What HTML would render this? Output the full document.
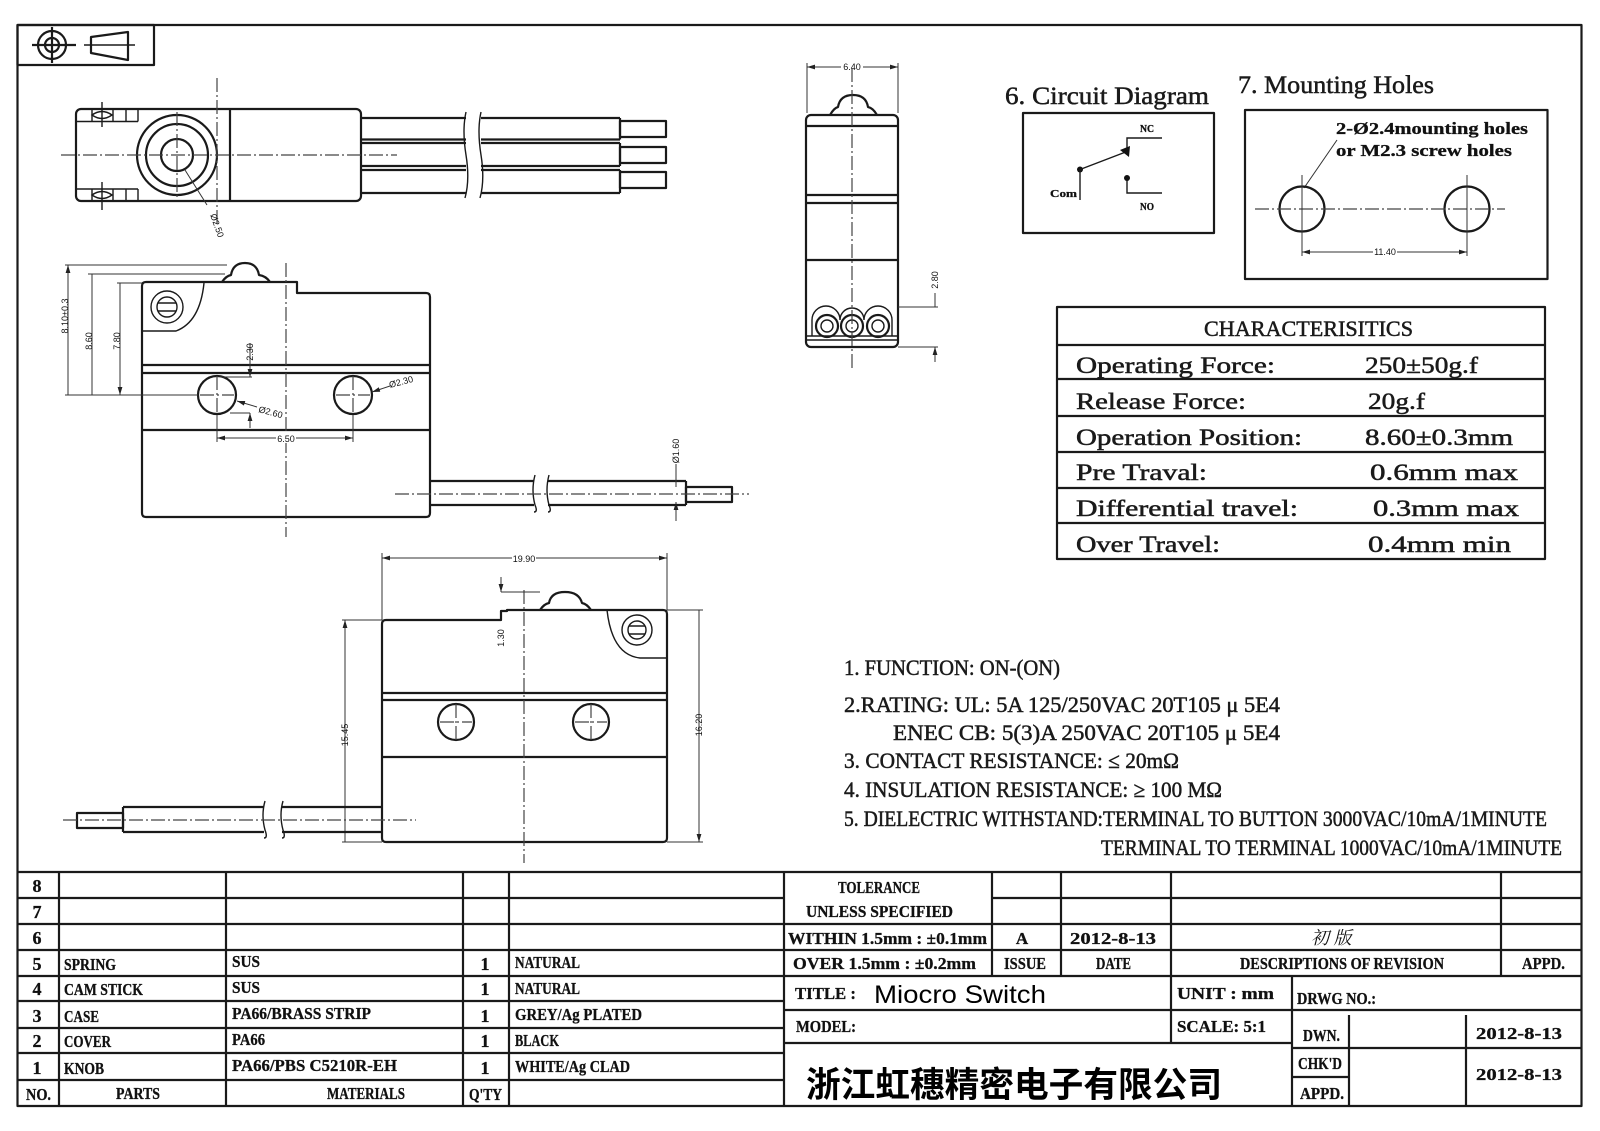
<!DOCTYPE html>
<html><head><meta charset="utf-8"><style>
html,body{margin:0;padding:0;background:#fff;}
svg{display:block}
.s{fill:none;stroke:#1a1a1a;stroke-width:2.2;stroke-linejoin:round}
.m{fill:none;stroke:#1a1a1a;stroke-width:1.4}
.d{fill:none;stroke:#333;stroke-width:1}
.c{fill:none;stroke:#444;stroke-width:1.2;stroke-dasharray:14 3 2 3}
.t{font-family:"Liberation Serif",serif;fill:#1a1a1a;stroke:#1a1a1a;stroke-width:0.5}
.b{font-family:"Liberation Serif",serif;font-weight:bold;fill:#111;stroke:#111;stroke-width:0.3}
.n{font-family:"Liberation Sans",sans-serif;fill:#111;font-size:9px}
</style></head><body>
<svg width="1600" height="1131" viewBox="0 0 1600 1131" xmlns="http://www.w3.org/2000/svg">
<defs>
<marker id="a" viewBox="0 0 10 6" refX="10" refY="3" markerWidth="8" markerHeight="4.8" orient="auto-start-reverse" markerUnits="userSpaceOnUse"><path d="M0,0L10,3L0,6Z" fill="#222"/></marker>
</defs>
<rect width="1600" height="1131" fill="#fff"/>

<!-- Frame -->
<rect x="17.5" y="25" width="1564" height="1081" class="s" stroke-width="3"/>
<rect x="17.5" y="25" width="136.5" height="40" class="s"/>
<circle cx="52" cy="45" r="14" class="s"/>
<circle cx="52" cy="45" r="7" class="s"/>
<path d="M32,45H76M52,27V63" class="s" stroke-width="1.6"/>
<path d="M91,37L128,32V60L91,53Z" class="s"/>
<path d="M84,45H135" class="m"/>

<!-- Top view -->
<rect x="76" y="109" width="285" height="92" rx="5" class="s"/>
<path d="M230,109V201" class="s"/>
<path d="M76,121.5H138M76,189H138M138,109V121.5M138,189V201M113,109V121.5M126,109V121.5M113,189V201M126,189V201M92,109V121.5M92,189V201" class="m"/>
<path d="M92,115Q102,108 112,115Q102,122 92,115ZM92,195Q102,188 112,195Q102,202 92,195Z" class="m"/>
<path d="M102,102V127M102,182V210" class="m"/>
<circle cx="177" cy="155" r="40" class="s"/>
<circle cx="177" cy="155" r="31" class="s"/>
<circle cx="177" cy="155" r="16" class="s"/>
<path d="M177,112V198" class="c"/>
<path d="M61,155H397" class="c"/>
<path d="M217,78V227" class="c"/>
<path d="M185,170L207,205" class="d"/>
<text class="n" x="210" y="215" transform="rotate(70 210 215)">Ø2.50</text>
<path d="M361,118H466M481,118H620M361,139.5H466M481,139.5H620M361,143H466M481,143H620M361,166H466M481,166H620M361,170H466M481,170H620M361,193H466M481,193H620M620,118V139.5M620,143V166M620,170V193" class="s" stroke-width="2"/>
<path d="M466,112Q462,130 466,155Q470,180 465,198M481,112Q477,130 481,155Q485,180 480,198" class="m"/>
<rect x="620" y="121" width="46" height="16" class="s" stroke-width="2"/>
<rect x="620" y="147" width="46" height="16" class="s" stroke-width="2"/>
<rect x="620" y="172" width="46" height="16" class="s" stroke-width="2"/>

<!-- Side view 1 -->
<path d="M142,286Q142,282 146,282L297,282L297,293L426,293Q430,293 430,297L430,513Q430,517 426,517L146,517Q142,517 142,513Z" class="s"/>
<path d="M222,282Q226,276 231,275Q233,263 245,263Q257,263 259,275Q266,276 270,282" class="s"/>
<circle cx="167" cy="307" r="16" class="m"/>
<circle cx="167" cy="307" r="10" class="m"/>
<path d="M158,303H176M158,311H176" class="m"/>
<path d="M142,331L176,331Q200,322 204,283" class="m"/>
<path d="M142,365H430M142,373H430M142,430H430" class="s"/>
<circle cx="217" cy="395" r="19" class="s"/>
<circle cx="353" cy="395" r="19" class="s"/>
<path d="M200,395H234M217,376V414M336,395H370M353,376V414" class="c" stroke-width="0.9"/>
<path d="M286,263V537" class="c"/>
<path d="M68,265V395M92,274V395M120,283V395" class="d" marker-start="url(#a)" marker-end="url(#a)"/>
<path d="M65,265H227M88,274H225M117,283H142M65,395H198" class="d"/>
<text class="n" x="68" y="316" text-anchor="middle" transform="rotate(-90 68 316)">8.10±0.3</text>
<text class="n" x="92" y="341" text-anchor="middle" transform="rotate(-90 92 341)">8.60</text>
<text class="n" x="120" y="341" text-anchor="middle" transform="rotate(-90 120 341)">7.80</text>
<path d="M250,343V377" class="d" marker-end="url(#a)"/>
<path d="M220,377H252M230,413H250" class="d"/>
<path d="M250,428V413" class="d" marker-end="url(#a)"/>
<text class="n" x="253" y="352" text-anchor="middle" transform="rotate(-90 253 352)">2.30</text>
<path d="M237,401L257,407" class="d" marker-start="url(#a)"/>
<text class="n" x="258" y="412" transform="rotate(15 258 412)">Ø2.60</text>
<path d="M372,392L390,386" class="d" marker-start="url(#a)"/>
<text class="n" x="390" y="388" transform="rotate(-15 390 388)">Ø2.30</text>
<path d="M217,438H353" class="d" marker-start="url(#a)" marker-end="url(#a)"/>
<path d="M217,415V442M353,415V442" class="d"/>
<rect x="276" y="433" width="20" height="10" fill="#fff"/>
<text class="n" x="286" y="442" text-anchor="middle">6.50</text>
<path d="M430,481H534M548,481H686M430,505H534M548,505H686M686,481V505" class="s" stroke-width="2"/>
<path d="M535,475Q531,490 535,505Q538,512 534,512M549,475Q545,490 549,505Q552,512 548,512" class="m"/>
<rect x="686" y="487" width="46" height="15" class="s" stroke-width="2"/>
<path d="M395,494H749" class="c"/>
<path d="M676,464V487M676,521V502" class="d" marker-end="url(#a)"/>
<text class="n" x="679" y="451" text-anchor="middle" transform="rotate(-90 679 451)">Ø1.60</text>

<!-- Side view 2 -->
<path d="M386,620L501,620L501,611L507,611L507,610L663,610Q667,610 667,614L667,838Q667,842 663,842L386,842Q382,842 382,838L382,624Q382,620 386,620Z" class="s"/>
<path d="M540,610Q544,604 549,603Q551,592 565,592Q579,592 582,603Q587,604 591,610" class="s"/>
<circle cx="637" cy="630" r="15" class="m"/>
<circle cx="637" cy="630" r="9" class="m"/>
<path d="M629,626H645M629,634H645" class="m"/>
<path d="M607,610Q612,655 640,658L667,658" class="m"/>
<path d="M382,693H667M382,700H667M382,757H667" class="s"/>
<circle cx="456" cy="722" r="18" class="s"/>
<circle cx="591" cy="722" r="18" class="s"/>
<path d="M440,722H472M456,704V742M575,722H607M591,704V742" class="c" stroke-width="0.9"/>
<path d="M524,590V863" class="c"/>
<path d="M382,558H667" class="d" marker-start="url(#a)" marker-end="url(#a)"/>
<path d="M382,553V620M667,553V610" class="d"/>
<rect x="512" y="553" width="24" height="10" fill="#fff"/>
<text class="n" x="524" y="562" text-anchor="middle">19.90</text>
<path d="M501,577V592" class="d" marker-end="url(#a)"/>
<path d="M501,592H540" class="d"/>
<text class="n" x="504" y="638" text-anchor="middle" transform="rotate(-90 504 638)">1.30</text>
<path d="M345,620V842M699,610V842" class="d" marker-start="url(#a)" marker-end="url(#a)"/>
<path d="M342,620H382M342,842H382M667,610H703M667,842H703" class="d"/>
<text class="n" x="348" y="735" text-anchor="middle" transform="rotate(-90 348 735)">15.45</text>
<text class="n" x="702" y="725" text-anchor="middle" transform="rotate(-90 702 725)">16.20</text>
<path d="M382,807H282M264,807H123M382,832H282M264,832H123M123,807V832" class="s" stroke-width="2"/>
<path d="M283,801Q279,815 283,830Q286,838 282,838M265,801Q261,815 265,830Q268,838 264,838" class="m"/>
<rect x="77" y="813" width="46" height="15" class="s" stroke-width="2"/>
<path d="M63,820H416" class="c"/>

<!-- End view -->
<rect x="806" y="115" width="92" height="232" rx="5" class="s"/>
<path d="M806,126H898M806,195H898M806,203H898M806,260H898" class="s"/>
<path d="M830,115Q834,108 838,107Q840,95 853,95Q866,95 868,107Q873,108 877,115" class="s"/>
<path d="M812,336L812,320A14,14 0 0 1 840,320A12,12 0 0 1 864,320A13,13 0 0 1 892,320L892,336" class="m"/>
<circle cx="827" cy="326" r="11" class="s"/><circle cx="827" cy="326" r="6" class="m"/>
<circle cx="852" cy="326" r="11" class="s"/><circle cx="852" cy="326" r="6" class="m"/>
<circle cx="878" cy="326" r="11" class="s"/><circle cx="878" cy="326" r="6" class="m"/>
<path d="M806,336H898M806,340H898" class="m"/>
<path d="M807,67H898" class="d" marker-start="url(#a)" marker-end="url(#a)"/>
<path d="M807,63V113M898,63V113" class="d"/>
<rect x="841" y="62" width="22" height="10" fill="#fff"/>
<text class="n" x="852" y="70" text-anchor="middle">6.40</text>
<path d="M852,68V370" class="c"/>
<path d="M898,307H938M898,347H938" class="d"/>
<path d="M935,293V307M935,362V347" class="d" marker-end="url(#a)"/>
<text class="n" x="938" y="280" text-anchor="middle" transform="rotate(-90 938 280)">2.80</text>

<!-- Circuit diagram -->
<text class="t" x="1005" y="104" font-size="25" textLength="204" lengthAdjust="spacingAndGlyphs">6. Circuit Diagram</text>
<rect x="1023" y="113" width="191" height="120" class="s" stroke-width="2.5"/>
<circle cx="1080" cy="169.5" r="3" fill="#111"/>
<path d="M1080,169.5V200M1080,169.5L1127,151.5M1127,152V138H1162M1127,178V193H1162" class="m" stroke-width="1.8"/>
<path d="M1120,150L1130,146L1129,157Z" fill="#111"/>
<circle cx="1127" cy="178" r="3" fill="#111"/>
<text class="b" x="1050" y="197" font-size="11" textLength="27" lengthAdjust="spacingAndGlyphs">Com</text>
<text class="b" x="1140" y="132" font-size="10" textLength="14" lengthAdjust="spacingAndGlyphs">NC</text>
<text class="b" x="1140" y="210" font-size="10" textLength="14" lengthAdjust="spacingAndGlyphs">NO</text>

<!-- Mounting holes -->
<text class="t" x="1238" y="93" font-size="25" textLength="196" lengthAdjust="spacingAndGlyphs">7. Mounting Holes</text>
<rect x="1245" y="110" width="302.5" height="169" class="s" stroke-width="2.5"/>
<text class="b" x="1336" y="134" font-size="17" textLength="192" lengthAdjust="spacingAndGlyphs">2-Ø2.4mounting holes</text>
<text class="b" x="1336" y="156" font-size="17" textLength="176" lengthAdjust="spacingAndGlyphs">or M2.3 screw holes</text>
<path d="M1337,140L1304,188" class="d"/>
<circle cx="1302" cy="209" r="22.5" class="s"/>
<circle cx="1467" cy="209" r="22.5" class="s"/>
<path d="M1255,209H1505" class="c" stroke-width="1.6"/>
<path d="M1302,175V256M1467,175V256" class="d"/>
<path d="M1302,252H1467" class="d" marker-start="url(#a)" marker-end="url(#a)"/>
<rect x="1373" y="247" width="24" height="10" fill="#fff"/>
<text class="n" x="1385" y="255" text-anchor="middle">11.40</text>

<!-- Characteristics -->
<rect x="1057" y="307" width="488" height="252" class="s" stroke-width="3"/>
<path d="M1057,345H1545M1057,379H1545M1057,416H1545M1057,452H1545M1057,488H1545M1057,523H1545" class="s" stroke-width="3"/>
<text class="t" x="1204" y="336" font-size="22" textLength="209" lengthAdjust="spacingAndGlyphs">CHARACTERISITICS</text>
<g class="t" font-size="23">
<text x="1076" y="373" textLength="199" lengthAdjust="spacingAndGlyphs">Operating Force:</text>
<text x="1076" y="409" textLength="170" lengthAdjust="spacingAndGlyphs">Release Force:</text>
<text x="1076" y="445" textLength="226" lengthAdjust="spacingAndGlyphs">Operation Position:</text>
<text x="1076" y="480" textLength="131" lengthAdjust="spacingAndGlyphs">Pre Traval:</text>
<text x="1076" y="516" textLength="222" lengthAdjust="spacingAndGlyphs">Differential travel:</text>
<text x="1076" y="552" textLength="144" lengthAdjust="spacingAndGlyphs">Over Travel:</text>
<text x="1365" y="373" textLength="113" lengthAdjust="spacingAndGlyphs">250±50g.f</text>
<text x="1368" y="409" textLength="57" lengthAdjust="spacingAndGlyphs">20g.f</text>
<text x="1365" y="445" textLength="148" lengthAdjust="spacingAndGlyphs">8.60±0.3mm</text>
<text x="1370" y="480" textLength="148" lengthAdjust="spacingAndGlyphs">0.6mm max</text>
<text x="1373" y="516" textLength="146" lengthAdjust="spacingAndGlyphs">0.3mm max</text>
<text x="1368" y="552" textLength="143" lengthAdjust="spacingAndGlyphs">0.4mm min</text>
</g>

<!-- Notes -->
<g class="t" font-size="22">
<text x="844" y="675" textLength="216" lengthAdjust="spacingAndGlyphs">1. FUNCTION: ON-(ON)</text>
<text x="844" y="712" textLength="436" lengthAdjust="spacingAndGlyphs">2.RATING: UL: 5A 125/250VAC 20T105 μ 5E4</text>
<text x="893" y="740" textLength="387" lengthAdjust="spacingAndGlyphs">ENEC CB: 5(3)A 250VAC  20T105 μ 5E4</text>
<text x="844" y="768" textLength="335" lengthAdjust="spacingAndGlyphs">3. CONTACT RESISTANCE: ≤ 20mΩ</text>
<text x="844" y="797" textLength="378" lengthAdjust="spacingAndGlyphs">4. INSULATION RESISTANCE: ≥ 100 MΩ</text>
<text x="844" y="826" textLength="703" lengthAdjust="spacingAndGlyphs">5. DIELECTRIC WITHSTAND:TERMINAL TO BUTTON 3000VAC/10mA/1MINUTE</text>
<text x="1101" y="855" textLength="461" lengthAdjust="spacingAndGlyphs">TERMINAL TO TERMINAL 1000VAC/10mA/1MINUTE</text>
</g>

<!-- BOM -->
<path d="M17.5,872H1582M17.5,898H784M17.5,924H1582M17.5,950H1582M17.5,976H1582M17.5,1001H784M17.5,1028H784M17.5,1053H784M17.5,1080H784" class="s" stroke-width="2.5"/>
<path d="M59,872V1106M226,872V1106M463,872V1106M509,872V1106M784,872V1106" class="s" stroke-width="2.5"/>
<g class="b" font-size="18">
<text x="37" y="892" text-anchor="middle">8</text>
<text x="37" y="918" text-anchor="middle">7</text>
<text x="37" y="944" text-anchor="middle">6</text>
<text x="37" y="970" text-anchor="middle">5</text>
<text x="37" y="995" text-anchor="middle">4</text>
<text x="37" y="1022" text-anchor="middle">3</text>
<text x="37" y="1047" text-anchor="middle">2</text>
<text x="37" y="1074" text-anchor="middle">1</text>
<text x="485" y="970" text-anchor="middle">1</text>
<text x="485" y="995" text-anchor="middle">1</text>
<text x="485" y="1022" text-anchor="middle">1</text>
<text x="485" y="1047" text-anchor="middle">1</text>
<text x="485" y="1074" text-anchor="middle">1</text>
</g>
<g class="b" font-size="17">
<text x="64" y="970" textLength="52" lengthAdjust="spacingAndGlyphs">SPRING</text>
<text x="64" y="995" textLength="79" lengthAdjust="spacingAndGlyphs">CAM STICK</text>
<text x="64" y="1022" textLength="35" lengthAdjust="spacingAndGlyphs">CASE</text>
<text x="64" y="1047" textLength="47" lengthAdjust="spacingAndGlyphs">COVER</text>
<text x="64" y="1074" textLength="40" lengthAdjust="spacingAndGlyphs">KNOB</text>
<text x="232" y="967" textLength="28" lengthAdjust="spacingAndGlyphs">SUS</text>
<text x="232" y="993" textLength="28" lengthAdjust="spacingAndGlyphs">SUS</text>
<text x="232" y="1019" textLength="139" lengthAdjust="spacingAndGlyphs">PA66/BRASS STRIP</text>
<text x="232" y="1045" textLength="33" lengthAdjust="spacingAndGlyphs">PA66</text>
<text x="232" y="1071" textLength="165" lengthAdjust="spacingAndGlyphs">PA66/PBS C5210R-EH</text>
<text x="515" y="968" textLength="65" lengthAdjust="spacingAndGlyphs">NATURAL</text>
<text x="515" y="994" textLength="65" lengthAdjust="spacingAndGlyphs">NATURAL</text>
<text x="515" y="1020" textLength="127" lengthAdjust="spacingAndGlyphs">GREY/Ag PLATED</text>
<text x="515" y="1046" textLength="44" lengthAdjust="spacingAndGlyphs">BLACK</text>
<text x="515" y="1072" textLength="115" lengthAdjust="spacingAndGlyphs">WHITE/Ag CLAD</text>
<text x="26" y="1100" textLength="25" lengthAdjust="spacingAndGlyphs">NO.</text>
<text x="116" y="1099" textLength="44" lengthAdjust="spacingAndGlyphs">PARTS</text>
<text x="327" y="1099" textLength="78" lengthAdjust="spacingAndGlyphs">MATERIALS</text>
<text x="469" y="1100" textLength="33" lengthAdjust="spacingAndGlyphs">Q'TY</text>
</g>

<!-- Title block right -->
<path d="M992,898H1582M784,1010H1582M784,1043H1292M1292,1048H1582M1292,1077H1349" class="s" stroke-width="2.5"/>
<path d="M992,872V975M1061,872V975M1171,872V1043M1501,872V975M1292,975V1106M1349,1015V1106M1466,1015V1106" class="s" stroke-width="2.5"/>
<g class="b" font-size="17">
<text x="838" y="893" textLength="82" lengthAdjust="spacingAndGlyphs">TOLERANCE</text>
<text x="806" y="917" textLength="147" lengthAdjust="spacingAndGlyphs">UNLESS  SPECIFIED</text>
<text x="788" y="944" textLength="199" lengthAdjust="spacingAndGlyphs">WITHIN 1.5mm : ±0.1mm</text>
<text x="793" y="969" textLength="183" lengthAdjust="spacingAndGlyphs">OVER 1.5mm : ±0.2mm</text>
<text x="1022" y="944" text-anchor="middle">A</text>
<text x="1070" y="944" textLength="86" lengthAdjust="spacingAndGlyphs">2012-8-13</text>
<text x="1004" y="969" textLength="42" lengthAdjust="spacingAndGlyphs">ISSUE</text>
<text x="1096" y="969" textLength="35" lengthAdjust="spacingAndGlyphs">DATE</text>
<text x="1240" y="969" textLength="204" lengthAdjust="spacingAndGlyphs">DESCRIPTIONS OF REVISION</text>
<text x="1522" y="969" textLength="43" lengthAdjust="spacingAndGlyphs">APPD.</text>
<text x="795" y="999" textLength="61" lengthAdjust="spacingAndGlyphs">TITLE :</text>
<text x="1177" y="999" textLength="97" lengthAdjust="spacingAndGlyphs">UNIT :  mm</text>
<text x="1297" y="1004" textLength="79" lengthAdjust="spacingAndGlyphs">DRWG NO.:</text>
<text x="796" y="1032" textLength="60" lengthAdjust="spacingAndGlyphs">MODEL:</text>
<text x="1177" y="1032" textLength="89" lengthAdjust="spacingAndGlyphs">SCALE:  5:1</text>
<text x="1303" y="1041" textLength="37" lengthAdjust="spacingAndGlyphs">DWN.</text>
<text x="1476" y="1039" textLength="86" lengthAdjust="spacingAndGlyphs">2012-8-13</text>
<text x="1298" y="1069" textLength="44" lengthAdjust="spacingAndGlyphs">CHK'D</text>
<text x="1300" y="1099" textLength="44" lengthAdjust="spacingAndGlyphs">APPD.</text>
<text x="1476" y="1080" textLength="86" lengthAdjust="spacingAndGlyphs">2012-8-13</text>
</g>
<text x="1311" y="944" font-family="'Liberation Serif','Noto Serif CJK SC',serif" font-size="18" font-style="italic" fill="#111">初 版</text>
<text x="874" y="1003" font-family="'Liberation Sans',sans-serif" font-size="25" fill="#000" textLength="172" lengthAdjust="spacingAndGlyphs">Miocro Switch</text>
<text x="806" y="1097" font-family="'Liberation Sans','Noto Sans CJK SC',sans-serif" font-weight="bold" font-size="35" fill="#000" textLength="416" lengthAdjust="spacingAndGlyphs">浙江虹穗精密电子有限公司</text>
</svg>
</body></html>
